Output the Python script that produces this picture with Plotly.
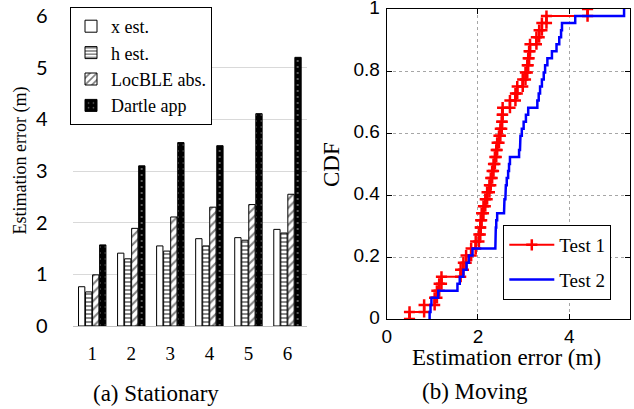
import plotly.graph_objects as go

# ---------------- data ----------------
positions = ["1", "2", "3", "4", "5", "6"]
x_est = [0.76, 1.41, 1.55, 1.69, 1.71, 1.87]
h_est = [0.66, 1.30, 1.45, 1.55, 1.66, 1.80]
locble_abs = [0.99, 1.89, 2.11, 2.30, 2.35, 2.55]
dartle_app = [1.57, 3.10, 3.55, 3.49, 4.11, 5.20]

bar_names = ["x est.", "h est.", "LocBLE abs.", "Dartle app"]

test1_errors = [0.50, 0.82, 1.05, 1.10, 1.15, 1.20, 1.62, 1.68, 1.74, 1.85,
                1.95, 2.02, 2.05, 2.06, 2.08, 2.12, 2.16, 2.20, 2.25, 2.28,
                2.31, 2.34, 2.37, 2.40, 2.42, 2.46, 2.49, 2.52, 2.53, 2.54,
                2.70, 2.82, 2.86, 2.98, 3.04, 3.08, 3.10, 3.12, 3.14, 3.28,
                3.34, 3.40, 3.50, 4.40]
test2_errors = [0.94, 0.96, 0.98, 1.13, 1.55, 1.60, 1.68, 1.75, 1.80, 1.88,
                2.38, 2.38, 2.39, 2.40, 2.42, 2.57, 2.58, 2.60, 2.61, 2.63,
                2.66, 2.68, 2.70, 2.90, 2.92, 2.93, 2.96, 3.00, 3.05, 3.10,
                3.30, 3.33, 3.36, 3.40, 3.44, 3.47, 3.52, 3.62, 3.72, 3.78,
                3.82, 3.84, 4.13, 5.20]

cdf_ticks = [0, 0.2, 0.4, 0.6, 0.8, 1]
cdf_ticktext = ["0", "0.2", "0.4", "0.6", "0.8", "1"]
err_ticks = [0, 2, 4]


def stairs(samples):
    s = sorted(samples)
    n = len(s)
    xs, ys = [], []
    for i, v in enumerate(s):
        xs += [v, v]
        ys += [i / n, (i + 1) / n]
    return xs, ys


W, H = 634, 409
def px(x):
    return x / W
def py(y):
    return 1 - y / H

SERIF = "Liberation Serif, Times New Roman, Times, serif"
SANS = "Liberation Sans, Arial, Helvetica, sans-serif"

fig = go.Figure()

patterns = [
    dict(shape="", bgcolor="white", fgcolor="black"),
    dict(shape="-", bgcolor="white", fgcolor="black", size=4, solidity=0.45),
    dict(shape="/", bgcolor="white", fgcolor="black", size=6, solidity=0.35),
    dict(shape=".", bgcolor="black", fgcolor="white", size=6, solidity=0.08),
]
fills = ["white", "white", "white", "black"]
for name, vals, pat, fc in zip(bar_names, [x_est, h_est, locble_abs, dartle_app], patterns, fills):
    fig.add_trace(go.Bar(
        x=positions, y=vals, name=name,
        marker=dict(color=fc, line=dict(color="black", width=1), pattern=pat),
        xaxis="x", yaxis="y", legend="legend",
    ))

x1, y1 = stairs(test1_errors)
x2, y2 = stairs(test2_errors)
fig.add_trace(go.Scatter(
    x=x1, y=y1, mode="lines+markers", name="Test 1",
    line=dict(color="red", width=2),
    marker=dict(symbol="cross-thin", size=8, line=dict(color="red", width=2.5)),
    xaxis="x2", yaxis="y2", legend="legend2", legendgroup="a",
))
fig.add_trace(go.Scatter(
    x=x2, y=y2, mode="lines", name="Test 2",
    line=dict(color="blue", width=2.5),
    xaxis="x2", yaxis="y2", legend="legend2", legendgroup="b",
))

fig.update_layout(
    width=W, height=H,
    margin=dict(l=0, r=0, t=0, b=0, autoexpand=False),
    paper_bgcolor="white", plot_bgcolor="white",
    barmode="group", bargap=0.28, bargroupgap=0.1,
    font=dict(family=SERIF, color="black"),
    xaxis=dict(
        domain=[px(72.7), px(307)], anchor="y", automargin=False,
        type="category", range=[-0.5, 5.5],
        showline=True, linecolor="#bfbfbf", linewidth=1,
        ticks="", showgrid=False,
        tickfont=dict(family=SERIF, size=19, color="black"),
        ticklabelstandoff=10,
    ),
    yaxis=dict(
        domain=[py(326), py(16)], anchor="x", automargin=False,
        range=[0, 6], tickvals=[0, 1, 2, 3, 4, 5, 6],
        showgrid=True, gridcolor="#d9d9d9", gridwidth=1,
        zeroline=False, showline=False, ticks="",
        tickfont=dict(family="Lato", size=20, color="black"),
        ticklabelstandoff=24, ticklabeloverflow="allow",
    ),
    xaxis2=dict(
        domain=[px(386.7), px(630)], anchor="y2", automargin=False,
        range=[0, 5.33], tickvals=err_ticks,
        showline=True, linecolor="black", linewidth=1, mirror="ticks",
        ticks="inside", ticklen=5, tickcolor="black",
        showgrid=True, gridcolor="#a6a6a6", griddash="dot", gridwidth=1,
        zeroline=False,
        tickfont=dict(family=SANS, size=19, color="black"),
        ticklabelstandoff=0, ticklabeloverflow="allow",
    ),
    yaxis2=dict(
        domain=[py(319), py(9)], anchor="x2", automargin=False,
        range=[0, 1], tickvals=cdf_ticks, ticktext=cdf_ticktext,
        showline=True, linecolor="black", linewidth=1, mirror="ticks",
        ticks="inside", ticklen=5, tickcolor="black",
        showgrid=True, gridcolor="#a6a6a6", griddash="dot", gridwidth=1,
        zeroline=False,
        tickfont=dict(family=SANS, size=19, color="black"),
        ticklabelstandoff=2, ticklabelshift=-2, ticklabeloverflow="allow",
    ),
    legend=dict(
        x=px(70), y=py(7), xanchor="left", yanchor="top",
        bgcolor="white", bordercolor="black", borderwidth=1,
        font=dict(family=SERIF, size=18, color="black"),
        itemwidth=30, traceorder="normal",
    ),
    legend2=dict(
        x=px(503.3), y=py(225), xanchor="left", yanchor="top",
        bgcolor="white", bordercolor="black", borderwidth=1,
        font=dict(family=SERIF, size=19, color="black"),
        itemwidth=45, traceorder="grouped", tracegroupgap=7,
    ),
    showlegend=True,
)

ann = [
    dict(text="Estimation error (m)", x=px(20), y=py(160.5), textangle=-90,
         font=dict(family=SERIF, size=18)),
    dict(text="(a) Stationary", x=px(156), y=py(393), font=dict(family=SERIF, size=23)),
    dict(text="CDF", x=px(331), y=py(165), textangle=-90, font=dict(family=SERIF, size=23)),
    dict(text="Estimation error (m)", x=px(506.7), y=py(357), font=dict(family=SERIF, size=23)),
    dict(text="(b) Moving", x=px(475), y=py(391.7), font=dict(family=SERIF, size=23)),
]
for a in ann:
    fig.add_annotation(xref="paper", yref="paper", showarrow=False,
                       xanchor="center", yanchor="middle", **a)

fig.write_html("out.html",
               config={"displayModeBar": False},
               post_script="document.body.style.margin='0px';document.body.style.overflow='hidden';")
